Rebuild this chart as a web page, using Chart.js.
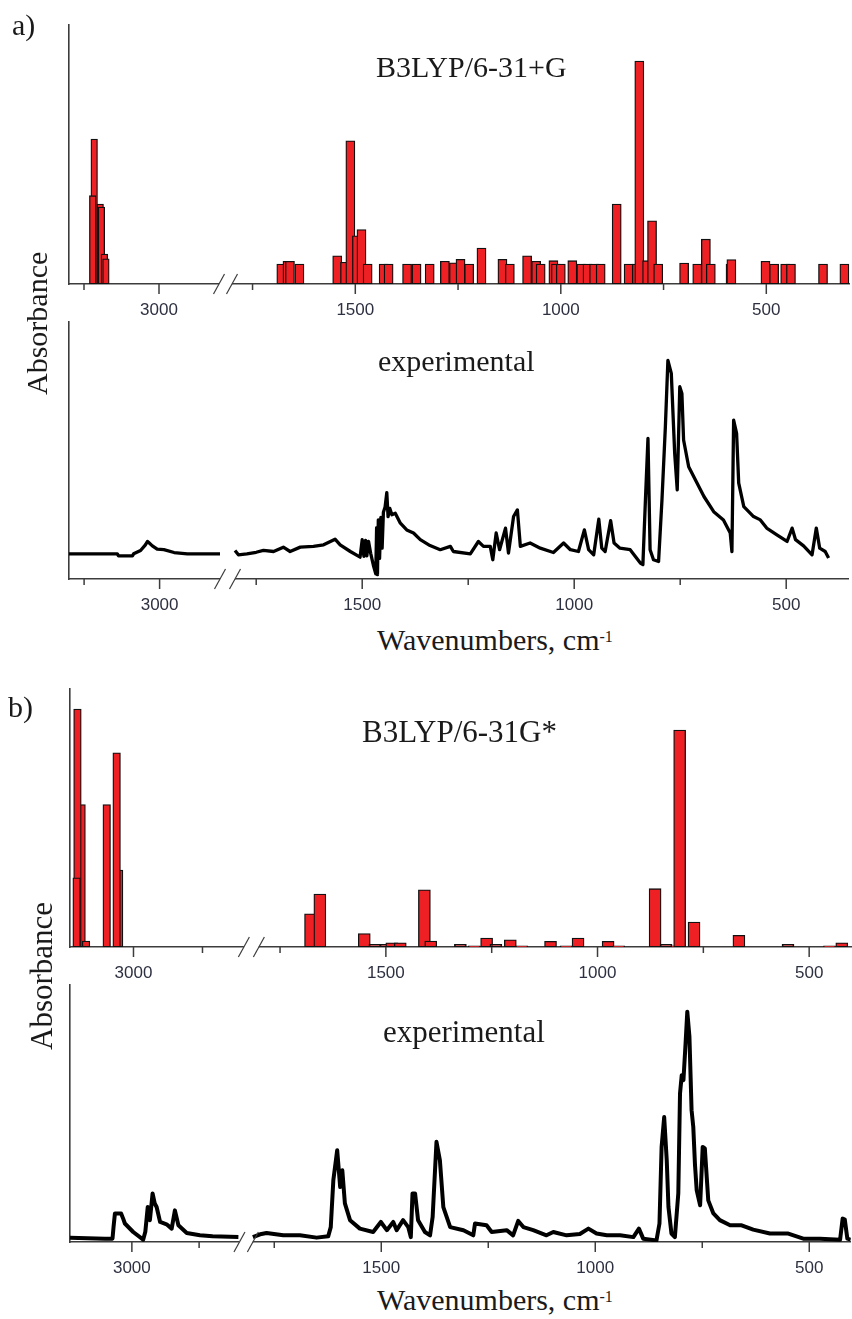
<!DOCTYPE html>
<html>
<head>
<meta charset="utf-8">
<script src="https://cdn.jsdelivr.net/npm/chart.js@4.4.1/dist/chart.umd.min.js"></script>
<style>
  body { margin: 0; background: #fff; }
  #page { position: relative; width: 852px; height: 1319px; overflow: hidden; background: #fff; }
  canvas { position: absolute; left: 0; }
  .t { position: absolute; font-family: "Liberation Serif", "Times New Roman", serif; color: #1a1a1a; line-height: 1; white-space: nowrap; }
  .rot { transform-origin: 0 0; transform: rotate(-90deg); }
  .sup { font-size: 16px; position: relative; top: -8px; }
</style>
</head>
<body>
<div id="page">
  <canvas id="aTop"></canvas>
  <canvas id="aBot"></canvas>
  <canvas id="bTop"></canvas>
  <canvas id="bBot"></canvas>

  <div class="t" style="left:12px; top:10px; font-size:30px;">a)</div>
  <div class="t" style="left:376px; top:52px; font-size:30px;">B3LYP/6-31+G</div>
  <div class="t rot" style="left:22px; top:395px; font-size:30px;">Absorbance</div>
  <div class="t" style="left:378px; top:346px; font-size:30px;">experimental</div>
  <div class="t" style="left:377px; top:625px; font-size:30px;">Wavenumbers, cm<span class="sup">-1</span></div>

  <div class="t" style="left:8px; top:692px; font-size:30px;">b)</div>
  <div class="t" style="left:362px; top:716px; font-size:31px;">B3LYP/6-31G*</div>
  <div class="t rot" style="left:26px; top:1050px; font-size:31px;">Absorbance</div>
  <div class="t" style="left:383px; top:1016px; font-size:31px;">experimental</div>
  <div class="t" style="left:377px; top:1285px; font-size:30px;">Wavenumbers, cm<span class="sup">-1</span></div>
</div>

<script>
// tick marks (wavenumbers)
const tickMajor = [3000, 1500, 1000, 500];
const tickMinorA = [3250, 1750, 1250, 750];
const tickMinorB = [2750, 1750, 1250, 750];

// a) B3LYP/6-31+G computed lines
const aCalcFreq = [3216, 3221, 3196, 3192, 3182, 3177, 1680, 1665, 1659, 1636,
  1544, 1525, 1512, 1496, 1485, 1470, 1431, 1419, 1374, 1351,
  1319, 1282, 1260, 1244, 1223, 1193, 1142, 1124, 1082, 1060,
  1049, 1018, 1012, 1000, 972, 950, 935, 919, 903, 864,
  835, 815, 809, 790, 778, 763, 700, 668, 647, 635,
  587, 585, 502, 481, 454, 440, 362, 310];
const aCalcInt = [56, 34.1, 30.9, 29.7, 11.6, 9.7, 7.7, 8.8, 8.8, 7.7,
  10.9, 8.4, 55.3, 18.6, 21, 7.7, 7.7, 7.7, 7.7, 7.7,
  7.7, 8.8, 8.2, 9.5, 7.7, 13.9, 9.5, 7.7, 10.9, 8.8,
  7.7, 9.0, 7.7, 7.7, 9.0, 7.7, 7.7, 7.7, 7.7, 30.9,
  7.7, 7.7, 86.1, 9.0, 24.4, 7.7, 8.1, 7.7, 17.3, 7.7,
  7.7, 9.4, 8.8, 7.7, 7.7, 7.7, 7.7, 7.7];

// a) experimental spectrum, C-H region and fingerprint region
const aExpHiW = [3300, 3140, 3136, 3090, 3086, 3063, 3047, 3040, 3036, 3024, 3008, 2986, 2952, 2908, 2860, 2800];
const aExpHiA = [9.8, 9.8, 9.0, 9.0, 9.8, 11.1, 13.3, 14.6, 14.2, 12.9, 11.6, 11.4, 10.3, 9.8, 9.8, 9.8];
const aExpLoW = [1800, 1792, 1772, 1750, 1733, 1709, 1686, 1670, 1646, 1615,
  1591, 1564, 1552, 1528, 1505, 1500, 1496, 1492, 1489, 1485,
  1480, 1473, 1468, 1466, 1464, 1462, 1459, 1456, 1453, 1450,
  1446, 1442, 1439, 1435, 1430, 1422, 1410, 1395, 1379, 1363,
  1340, 1316, 1292, 1285, 1245, 1226, 1214, 1198, 1192, 1184,
  1176, 1162, 1155, 1143, 1134, 1127, 1104, 1080, 1049, 1025,
  1009, 990, 976, 966, 954, 942, 935, 927, 914, 906,
  892, 868, 844, 838, 832, 826, 821, 813, 801, 793,
  785, 779, 771, 763, 757, 751, 746, 742, 730, 714,
  694, 671, 648, 632, 628, 624, 617, 612, 600, 577,
  561, 546, 522, 498, 486, 478, 459, 439, 429, 421,
  408, 400];
const aExpLoA = [11.1, 9.4, 9.8, 10.4, 11.1, 10.7, 12.4, 10.7, 12.4, 12.7,
  13.3, 15.5, 13.3, 10.7, 8.5, 15.3, 8.8, 15, 9, 14.6,
  10, 4.9, 2, 20, 1.7, 23, 8, 24, 12, 26,
  28, 33.6, 24.3, 27.5, 25, 25.6, 21.7, 19.1, 17.9, 15.3,
  13, 11.4, 12.7, 10.7, 9.8, 14.6, 12.7, 12.7, 7.5, 17.9,
  11.4, 19.8, 10.1, 24.3, 26.9, 12.7, 14, 12, 10.3, 14,
  11.4, 10.7, 19.1, 11.4, 9.4, 23.3, 12, 10.7, 22.7, 14,
  12, 11.4, 6.2, 5.6, 30.8, 54.7, 11.4, 7.5, 6.8, 30.8,
  59.2, 85.1, 80, 48.9, 34.7, 74.8, 72.2, 54.1, 43.7, 38.5,
  32.1, 26.2, 23, 17.9, 10.7, 61.8, 56.7, 37.3, 28.2, 24.3,
  23, 19.8, 17.2, 14.6, 19.8, 15.3, 12.9, 9.4, 19.8, 12,
  10.7, 8.2];

// b) B3LYP/6-31G* computed lines
const bCalcFreq = [3188, 3172, 3203, 3206, 3097, 3052, 3061, 1678, 1656, 1551,
  1526, 1500, 1486, 1466, 1409, 1394, 1324, 1291, 1262, 1240,
  1206, 1179, 1111, 1074, 1046, 975, 950, 864, 838, 812,
  806, 772, 666, 550, 452, 423];
const bCalcInt = [55.2, 2.3, 92.2, 26.8, 55.2, 29.8, 75.3, 12.9, 20.5, 5.2,
  1.0, 1.0, 1.6, 1.6, 22.2, 2.3, 1.0, 0.5, 3.5, 1.0,
  2.8, 0.5, 2.2, 0.5, 3.5, 2.2, 0.5, 22.6, 1.0, 0.5,
  84.1, 9.7, 4.5, 1.0, 0.5, 1.6];

// b) experimental spectrum
const bExpHiW = [3230, 3100, 3072, 3068, 3063, 3040, 3032, 3026, 2995, 2958,
  2950, 2941, 2933, 2923, 2915, 2908, 2895, 2871, 2852, 2840,
  2827, 2796, 2747, 2700, 2604];
const bExpHiA = [1.7, 1.3, 1.3, 6.0, 11.1, 11.1, 9.0, 7.2, 3.9, 0.9,
  4.0, 13.6, 8.5, 18.9, 15.0, 13.6, 7.8, 6.9, 5.2, 12.3,
  6.5, 3.5, 2.6, 2.2, 1.9];
const bExpLoW = [1800, 1783, 1768, 1729, 1690, 1651, 1624, 1618, 1612, 1603,
  1596, 1591, 1585, 1573, 1550, 1519, 1501, 1487, 1472, 1464,
  1449, 1437, 1431, 1427, 1421, 1414, 1398, 1386, 1380, 1371,
  1363, 1355, 1339, 1308, 1285, 1281, 1254, 1242, 1207, 1192,
  1180, 1168, 1145, 1114, 1098, 1067, 1036, 1016, 997, 973,
  942, 911, 898, 888, 857, 850, 845, 839, 833, 829,
  822, 814, 806, 802, 798, 794, 789, 785, 780, 775,
  771, 767, 763, 755, 749, 744, 736, 724, 709, 685,
  658, 631, 592, 549, 514, 475, 428, 422, 417, 411,
  403];
const bExpLoA = [1.9, 3.0, 3.5, 2.6, 2.6, 1.7, 2.2, 5.8, 24, 35.7,
  21.4, 27.9, 15, 8.5, 5.2, 3.9, 7.8, 4.6, 7.8, 4.6,
  8.5, 5.8, 1.9, 18.9, 18.9, 8.5, 3.9, 2.6, 9.7, 39,
  31.8, 13.6, 5.8, 4.6, 2.6, 7.2, 6.5, 3.9, 4.6, 2.6,
  8.2, 5.8, 4.6, 2.6, 3.9, 2.6, 3.1, 5.2, 3.3, 2.6,
  2.6, 1.9, 5.2, 1.3, 0.6, 7.2, 37, 48.6, 31.8, 13.6,
  3.3, 1.9, 18.9, 57.8, 64.9, 63, 77.3, 89.6, 79.9, 51.3,
  44.8, 30, 20.1, 14.3, 37, 36.4, 16.2, 11.1, 8.5, 6.5,
  6.5, 4.8, 3.3, 3.3, 1.3, 1.3, 0.9, 9.1, 8.7, 1.3,
  0.9];

const axisColor = '#3c3c3c';
const tickColor = '#2d3040';
const barRed = '#ee2024';

// broken wavenumber axis: high piece [lMax..lMin], then a gap, then [rMax..rMin]
function brokenAxis(p) {
  const leftW = (p.lMax - p.lMin) * p.sL;
  p.toV = w => w >= p.lMin ? (p.lMax - w) * p.sL : leftW + p.gap + (p.rMax - w) * p.sR;
  p.width = p.toV(p.rMin);
  return p;
}

function decoPlugin(p) {
  return {
    id: 'deco',
    afterDraw(chart) {
      const {ctx, chartArea, scales: {x}} = chart;
      const y0 = chartArea.bottom;
      ctx.save();
      ctx.strokeStyle = axisColor;
      ctx.lineWidth = 1.5;
      x.ticks.forEach(t => {
        const px = x.getPixelForValue(t.value);
        const len = tickMajor.includes(t.w) ? 10 : 6;
        ctx.beginPath();
        ctx.moveTo(px, y0);
        ctx.lineTo(px, y0 + len);
        ctx.stroke();
      });
      // the // break marks
      const x1 = x.getPixelForValue(p.toV(p.lMin));
      const x2 = x.getPixelForValue(p.toV(p.rMax));
      ctx.fillStyle = '#fff';
      ctx.fillRect(x1, y0 - 3, x2 - x1, 6);
      ctx.lineWidth = 1.2;
      [x1, x2].forEach(cx => {
        ctx.beginPath();
        ctx.moveTo(cx - 5.5, y0 + 10);
        ctx.lineTo(cx + 5.5, y0 - 10);
        ctx.stroke();
      });
      ctx.restore();
    }
  };
}

function makeOptions(p) {
  const ticks = tickMajor.concat(p.minor)
    .filter(w => (w <= p.lMax && w >= p.lMin) || (w <= p.rMax && w >= p.rMin))
    .sort((a, b) => b - a);
  return {
    responsive: false,
    animation: false,
    devicePixelRatio: 1,
    layout: { padding: { left: p.left, top: 10, right: 852 - p.left - p.width, bottom: 0 } },
    plugins: { legend: { display: false }, tooltip: { enabled: false } },
    scales: {
      x: {
        type: 'linear', min: 0, max: p.width, offset: false,
        grid: { display: false, drawTicks: false },
        border: { display: true, color: axisColor, width: 1.6 },
        afterBuildTicks: s => { s.ticks = ticks.map(w => ({ value: p.toV(w), w: w })); },
        afterFit: s => { s.height = 40; },
        ticks: {
          autoSkip: false, maxRotation: 0, minRotation: 0, padding: 16, color: tickColor,
          font: { family: '"Liberation Sans", Arial, sans-serif', size: 17 },
          callback: (v, i, arr) => tickMajor.includes(arr[i].w) ? String(arr[i].w) : ''
        }
      },
      y: {
        min: 0, max: 100,
        grid: { display: false, drawTicks: false },
        ticks: { display: false },
        border: { display: true, color: axisColor, width: 1.6 },
        afterFit: s => { s.width = 0; }
      }
    }
  };
}

function placeCanvas(id, p) {
  const c = document.getElementById(id);
  c.width = 852;
  c.height = (p.bottom - p.top) + 10 + 40;
  c.style.top = (p.top - 10) + 'px';
  return c;
}

function barChart(id, p, freq, inten) {
  const hi = [], lo = [];
  freq.forEach((w, i) => {
    const pt = { x: p.toV(w), y: inten[i] };
    (w >= p.lMin ? hi : lo).push(pt);
  });
  const ds = (data, thick) => ({
    data: data, backgroundColor: barRed, borderColor: '#111', borderWidth: 1.3,
    borderSkipped: false, barThickness: thick, grouped: false
  });
  new Chart(placeCanvas(id, p), {
    type: 'bar',
    data: { datasets: [ds(hi, p.barL), ds(lo, p.barR)] },
    options: makeOptions(p),
    plugins: [decoPlugin(p)]
  });
}

function lineChart(id, p, hiW, hiA, loW, loA) {
  const pts = hiW.map((w, i) => ({ x: p.toV(w), y: hiA[i] }));
  pts.push({ x: p.toV(p.lMin) + p.gap / 2, y: null });
  loW.forEach((w, i) => pts.push({ x: p.toV(w), y: loA[i] }));
  new Chart(placeCanvas(id, p), {
    type: 'line',
    data: { datasets: [{
      data: pts, borderColor: '#000', borderWidth: p.lw, pointRadius: 0,
      tension: 0, spanGaps: false, fill: false, borderJoinStyle: 'round'
    }] },
    options: makeOptions(p),
    plugins: [decoPlugin(p)]
  });
}

const aTop = brokenAxis({ left: 69, top: 25, bottom: 284, lMax: 3300, lMin: 2800, sL: 0.3, gap: 13, rMax: 1800, sR: 0.411, rMin: 297, minor: tickMinorA, barL: 6.6, barR: 9.1 });
const aBot = brokenAxis({ left: 69, top: 322, bottom: 579, lMax: 3300, lMin: 2800, sL: 0.302, gap: 15, rMax: 1800, sR: 0.424, rMin: 354, minor: tickMinorA, lw: 3.3 });
const bTop = brokenAxis({ left: 70, top: 689, bottom: 947, lMax: 3230, lMin: 2600, sL: 0.276, gap: 15, rMax: 1800, sR: 0.4233, rMin: 400, minor: tickMinorB, barL: 7.6, barR: 12 });
const bBot = brokenAxis({ left: 70, top: 985, bottom: 1242, lMax: 3230, lMin: 2600, sL: 0.269, gap: 13.4, rMax: 1800, sR: 0.428, rMin: 403, minor: tickMinorB, lw: 4 });

barChart('aTop', aTop, aCalcFreq, aCalcInt);
lineChart('aBot', aBot, aExpHiW, aExpHiA, aExpLoW, aExpLoA);
barChart('bTop', bTop, bCalcFreq, bCalcInt);
lineChart('bBot', bBot, bExpHiW, bExpHiA, bExpLoW, bExpLoA);
</script>
</body>
</html>
